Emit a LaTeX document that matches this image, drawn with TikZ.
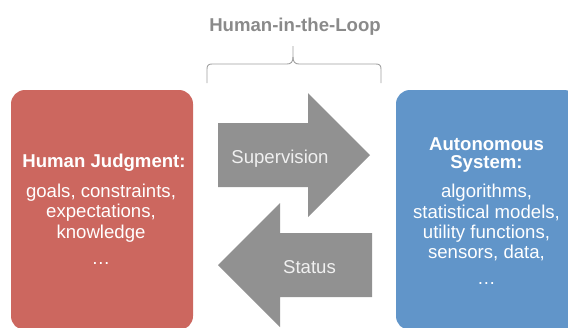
\documentclass[tikz,border=0pt]{standalone}
\usepackage{fontspec}
\setmainfont{Liberation Sans}
\definecolor{jred}{HTML}{CC675F}
\definecolor{ablue}{HTML}{6195C9}
\definecolor{arrowgray}{HTML}{919191}
\definecolor{bracegray}{HTML}{9E9E9E}
\definecolor{titlegray}{HTML}{8A8A8A}
\begin{document}
\begin{tikzpicture}[x=1pt,y=-1pt,
  panel/.style={rounded corners=14pt, minimum width=182pt, minimum height=240pt, inner sep=0pt, draw=none},
  txt/.style={inner sep=0pt, anchor=base, text=white, font=\fontsize{18.6}{20.5}\selectfont},
  btxt/.style={txt, font=\fontsize{18.6}{20.5}\selectfont\bfseries},
  arrtxt/.style={txt, text=white!94!black},
  arrowshape/.style={fill=arrowgray},
  bracestyle/.style={draw=bracegray, line width=0.9pt}]
\useasboundingbox (0,0) rectangle (568,327);
% title and brace
\node[btxt, text=titlegray] (title) at (295,31) {Human-in-the-Loop};
\draw[bracestyle] (207,83) -- (207,69) .. controls (207,65.5) and (208.5,64) .. (212,64)
  -- (287,64) .. controls (291,64) and (293,62) .. (293,57) -- (293,46);
\draw[bracestyle] (293,57) .. controls (293,62) and (295,64) .. (299,64)
  -- (376,64) .. controls (379.5,64) and (381,65.5) .. (381,69) -- (381,83);
% panels
\node[panel, fill=jred] (hj) at (102,210) {};
\node[panel, fill=ablue] (as) at (487,210) {};
% red panel text
\node[btxt] (hjhead) at (104,167) {Human Judgment:};
\node[txt] (hj1) at (101,197) {goals, constraints,};
\node[txt] (hj2) at (101,217.5) {expectations,};
\node[txt] (hj3) at (101,238) {knowledge};
\node[txt] (hj4) at (101,264) {…};
% blue panel text
\node[btxt] (ashead1) at (486.5,150) {Autonomous};
\node[btxt] (ashead2) at (486.5,168.5) {System:};
\node[txt] (as1) at (486.5,197.5) {algorithms,};
\node[txt] (as2) at (486.5,218) {statistical models,};
\node[txt] (as3) at (486.5,238) {utility functions,};
\node[txt] (as4) at (486.5,258.5) {sensors, data,};
\node[txt] (as5) at (486.5,284) {…};
% arrows
\fill[arrowshape] (218,123) -- (308,123) -- (308,93) -- (370,155) -- (308,217) -- (308,187) -- (218,187) -- cycle;
\fill[arrowshape] (372,233) -- (280,233) -- (280,203) -- (218,265) -- (280,327) -- (280,297) -- (372,297) -- cycle;
\node[arrtxt] (sup) at (280,163) {Supervision};
\node[arrtxt] (stat) at (309.5,273) {Status};
\end{tikzpicture}
\end{document}
